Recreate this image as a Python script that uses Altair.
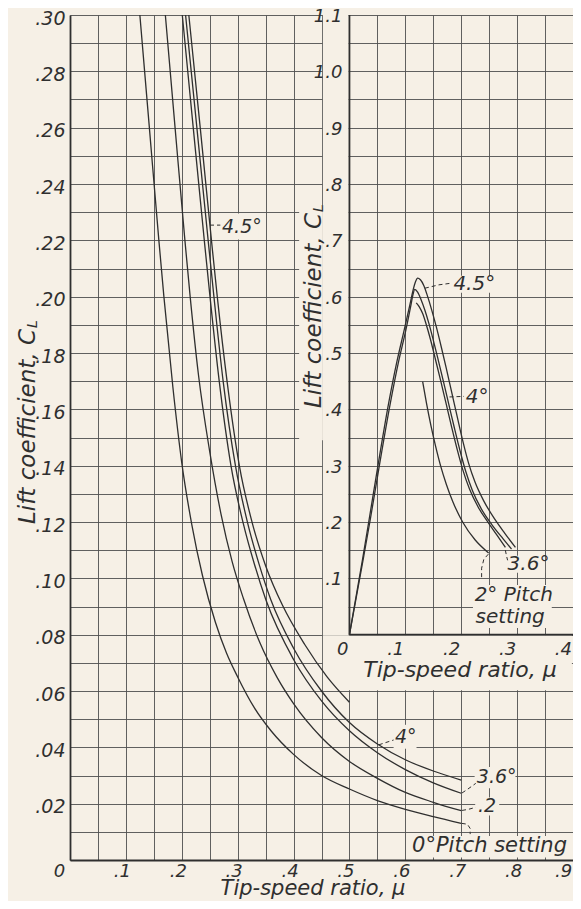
import altair as alt
import pandas as pd

BG = "#f6f0e6"
INK = "#2f2f2f"
GRID = "#4f4f4f"
FONT = "DejaVu Sans"

# ---------------- main panel: C_L vs tip-speed ratio ----------------
mu_p0 = [0.125, 0.142, 0.159, 0.168, 0.184, 0.200, 0.218, 0.237, 0.260, 0.280, 0.300, 0.330,
         0.360, 0.400, 0.450, 0.500, 0.550, 0.600, 0.650, 0.700]
cl_p0 = [0.300, 0.260, 0.220, 0.200, 0.168, 0.141, 0.119, 0.101, 0.0845, 0.0735, 0.065, 0.054,
         0.0458, 0.0375, 0.030, 0.0252, 0.0211, 0.018, 0.0154, 0.013]

mu_p2 = [0.1706, 0.188, 0.2056, 0.215, 0.230, 0.250, 0.270, 0.290, 0.310, 0.340, 0.370, 0.400,
         0.450, 0.500, 0.550, 0.600, 0.650, 0.700]
cl_p2 = [0.300, 0.260, 0.220, 0.200, 0.172, 0.145, 0.123, 0.106, 0.093, 0.077, 0.065, 0.0555,
         0.0435, 0.035, 0.029, 0.024, 0.0205, 0.0175]

mu_p36 = [0.2009, 0.2205, 0.2403, 0.2505, 0.267, 0.288, 0.310, 0.330, 0.3506, 0.400, 0.450,
          0.500, 0.550, 0.600, 0.650, 0.700]
cl_p36 = [0.300, 0.260, 0.220, 0.200, 0.170, 0.140, 0.1195, 0.105, 0.0923, 0.0712, 0.0565,
          0.0459, 0.0381, 0.0321, 0.0274, 0.0237]

mu_p4 = [0.2068, 0.227, 0.2472, 0.2575, 0.274, 0.296, 0.318, 0.338, 0.3595, 0.400, 0.450,
         0.500, 0.550, 0.600, 0.650, 0.700]
cl_p4 = [0.300, 0.260, 0.220, 0.200, 0.170, 0.140, 0.1195, 0.1052, 0.0923, 0.0752, 0.060,
         0.0488, 0.0412, 0.0356, 0.0316, 0.0284]

mu_p45 = [0.2126, 0.233, 0.2531, 0.2635, 0.281, 0.303, 0.327, 0.350, 0.380, 0.420, 0.460, 0.500]
cl_p45 = [0.300, 0.260, 0.220, 0.200, 0.170, 0.140, 0.119, 0.1045, 0.0905, 0.0765, 0.065, 0.056]

# ---------------- inset panel (its own scales) ----------------
imu_p45 = [0.0, 0.0233, 0.0345, 0.051, 0.070, 0.085, 0.098, 0.108, 0.114, 0.118, 0.122, 0.127,
           0.133, 0.140, 0.147, 0.155, 0.164, 0.173, 0.183, 0.193, 0.203, 0.213, 0.225, 0.240,
           0.260, 0.278, 0.297]
icl_p45 = [0.0, 0.133, 0.200, 0.300, 0.410, 0.485, 0.541, 0.585, 0.612, 0.626, 0.633, 0.630,
           0.620, 0.600, 0.577, 0.548, 0.512, 0.474, 0.430, 0.386, 0.343, 0.305, 0.270, 0.238,
           0.205, 0.180, 0.155]

imu_p4 = [0.0, 0.0245, 0.0365, 0.0535, 0.073, 0.088, 0.101, 0.110, 0.1135, 0.117, 0.122, 0.128,
          0.135, 0.142, 0.150, 0.159, 0.168, 0.178, 0.188, 0.198, 0.208, 0.220, 0.235, 0.255,
          0.275, 0.290]
icl_p4 = [0.0, 0.133, 0.200, 0.300, 0.410, 0.485, 0.541, 0.585, 0.603, 0.613, 0.608, 0.595,
          0.576, 0.553, 0.523, 0.487, 0.450, 0.408, 0.366, 0.326, 0.290, 0.256, 0.225, 0.195,
          0.170, 0.152]

imu_p36 = [0.1195, 0.125, 0.131, 0.137, 0.145, 0.154, 0.163, 0.173, 0.183, 0.193, 0.203, 0.215,
           0.230, 0.249, 0.263, 0.279]
icl_p36 = [0.589, 0.582, 0.570, 0.552, 0.524, 0.488, 0.452, 0.410, 0.368, 0.328, 0.292, 0.258,
           0.227, 0.198, 0.178, 0.155]

imu_p2 = [0.131, 0.138, 0.146, 0.154, 0.163, 0.173, 0.185, 0.2025, 0.225, 0.249]
icl_p2 = [0.449, 0.410, 0.370, 0.335, 0.300, 0.268, 0.236, 0.200, 0.168, 0.145]

x_grid = [round(i * 0.05, 2) for i in range(19)]
y_grid = [round(i * 0.01, 2) for i in range(31)]

inset_y_ticks = [0.1, 0.2, 0.3, 0.4, 0.5, 0.6, 0.7, 0.8, 0.9, 1.0, 1.1]
inset_y_text = [".1", ".2", ".3", ".4", ".5", ".6", ".7", ".8", ".9", "1.0", "1.1"]
inset_x_ticks = [0.0, 0.1, 0.2, 0.3, 0.4]
inset_x_text = ["0", ".1", ".2", ".3", ".4"]


def curve_df(mu, cl, name):
    return pd.DataFrame({"mu": mu, "cl": cl, "s": name, "i": list(range(len(mu)))})


main_df = pd.concat([
    curve_df(mu_p0, cl_p0, "0"), curve_df(mu_p2, cl_p2, "2"), curve_df(mu_p36, cl_p36, "3.6"),
    curve_df(mu_p4, cl_p4, "4"), curve_df(mu_p45, cl_p45, "4.5")], ignore_index=True)
inset_df = pd.concat([
    curve_df(imu_p45, icl_p45, "4.5"), curve_df(imu_p4, icl_p4, "4"),
    curve_df(imu_p36, icl_p36, "3.6"), curve_df(imu_p2, icl_p2, "2")], ignore_index=True)

xs = alt.Scale(domain=[0, 0.9], nice=False, zero=False)
ys = alt.Scale(domain=[0, 0.30], nice=False, zero=False)

xaxis = alt.Axis(
    values=x_grid, title=None, grid=True, gridColor=GRID, gridWidth=0.9, gridOpacity=1,
    ticks=False, domainColor=INK, domainWidth=1.8, labelFont=FONT, labelFontStyle="italic",
    labelFontSize=18, labelColor=INK, labelPadding=2, labelFlush=False, labelOverlap=False,
    labelBound=False,
    labelOffset={"condition": [{"test": "datum.value == 0", "value": -11},
                               {"test": "datum.value > 0.89", "value": -10}], "value": -4},
    labelExpr="round(datum.value*100) % 10 == 0 ? (datum.value == 0 ? '0' : "
              "replace(format(datum.value, '.1f'), '0.', '.')) : ''")
yaxis = alt.Axis(
    values=y_grid, title=None, grid=True, gridColor=GRID, gridWidth=0.9, gridOpacity=1,
    ticks=False, domainColor=INK, domainWidth=1.8, labelFont=FONT, labelFontStyle="italic",
    labelFontSize=19, labelColor=INK, labelPadding=5, labelOffset=3, labelFlush=False,
    labelOverlap=False, labelBound=False,
    labelExpr="datum.value == 0 ? '' : (round(datum.value*100) % 2 == 0 ? "
              "replace(format(datum.value, '.2f'), '0.', '.') : '')")


def X(f):
    return alt.X(f, type="quantitative", scale=xs, axis=xaxis)


def Y(f):
    return alt.Y(f, type="quantitative", scale=ys, axis=yaxis)


# background covers where the inset's axis labels sit (main coordinates)
covers = pd.DataFrame({"x1": [0.4525, 0.4525, 0.41], "x2": [0.898, 0.4985, 0.4525],
                       "y1": [0.0603, 0.0797, 0.149], "y2": [0.0797, 0.3005, 0.2325]})
cover_layer = alt.Chart(covers).mark_rect(color=BG, strokeWidth=0).encode(
    x=X("x1"), x2="x2", y=Y("y1"), y2="y2")

# main annotations
main_lab = pd.DataFrame({
    "t": ["4.5°", "4°", "3.6°", ".2"],
    "mu": [0.272, 0.5814, 0.728, 0.730],
    "cl": [0.2249, 0.0437, 0.0293, 0.0190]})
main_lab_bg = pd.DataFrame({
    "x1": [0.270, 0.579, 0.724, 0.725, 0.607],
    "x2": [0.338, 0.620, 0.797, 0.768, 0.893],
    "y1": [0.2203, 0.0395, 0.0255, 0.0158, 0.0009],
    "y2": [0.2295, 0.0480, 0.0330, 0.0222, 0.0085]})
main_pitch = pd.DataFrame({"t": ["0°Pitch setting"], "mu": [0.612], "cl": [0.0048]})

lead_main = pd.DataFrame({
    "k": [1, 1, 2, 2, 3, 3, 3, 4, 4, 4, 5, 5, 5, 5],
    "i": [0, 1, 0, 1, 0, 1, 2, 0, 1, 2, 0, 1, 2, 3],
    "mu": [0.2505, 0.269, 0.5526, 0.579, 0.7015, 0.712, 0.726, 0.7015, 0.713, 0.726,
           0.701, 0.711, 0.716, 0.716],
    "cl": [0.2254, 0.2254, 0.0409, 0.0426, 0.0238, 0.0252, 0.0272, 0.0176, 0.0180, 0.0187,
           0.0130, 0.0127, 0.0112, 0.0092]})

# inset annotations (inset coordinates)
inset_lab = pd.DataFrame({
    "t": ["4.5°", "4°", "3.6°", "2° Pitch", "setting"],
    "mu": [0.186, 0.208, 0.283, 0.224, 0.2255],
    "cl": [0.622, 0.422, 0.125, 0.070, 0.031]})
inset_lab_bg = pd.DataFrame({
    "x1": [0.184, 0.206, 0.281, 0.221],
    "x2": [0.252, 0.245, 0.350, 0.362],
    "y1": [0.607, 0.407, 0.110, 0.012],
    "y2": [0.637, 0.437, 0.140, 0.088]})
lead_inset = pd.DataFrame({
    "k": [1, 1, 1, 2, 2, 3, 3, 3, 4, 4, 4, 4],
    "i": [0, 1, 2, 0, 1, 0, 1, 2, 0, 1, 2, 3],
    "mu": [0.135, 0.160, 0.183, 0.179, 0.205, 0.279, 0.281, 0.283, 0.2486, 0.2405, 0.2365, 0.2365],
    "cl": [0.615, 0.621, 0.624, 0.422, 0.423, 0.150, 0.140, 0.132, 0.143, 0.134, 0.118, 0.098]})
inset_axes = pd.DataFrame({"mu": [0.0, 0.0], "mu2": [0.4, 0.0], "cl": [0.0, 0.0], "cl2": [0.0, 1.1]})

to_main = dict(px="0.5 + datum.mu", py="0.08 + 0.2 * datum.cl")
to_main_rect = dict(px1="0.5 + datum.x1", px2="0.5 + datum.x2",
                    py1="0.08 + 0.2 * datum.y1", py2="0.08 + 0.2 * datum.y2")

main_bg_layer = alt.Chart(main_lab_bg).mark_rect(color=BG, strokeWidth=0).encode(
    x=X("x1"), x2="x2", y=Y("y1"), y2="y2")
inset_bg_layer = alt.Chart(inset_lab_bg).transform_calculate(**to_main_rect).mark_rect(
    color=BG, strokeWidth=0).encode(x=X("px1:Q"), x2="px2:Q", y=Y("py1:Q"), y2="py2:Q")

main_lines = alt.Chart(main_df).mark_line(interpolate="monotone", color=INK, strokeWidth=1.3).encode(
    x=X("mu"), y=Y("cl"), detail="s:N", order="i:Q")
inset_lines = alt.Chart(inset_df).transform_calculate(**to_main).mark_line(
    interpolate="monotone", color=INK, strokeWidth=1.3).encode(
    x=X("px:Q"), y=Y("py:Q"), detail="s:N", order="i:Q")

inset_axis_layer = alt.Chart(inset_axes).transform_calculate(
    ax="0.5 + datum.mu", ax2="0.5 + datum.mu2", ay="0.08 + 0.2 * datum.cl",
    ay2="0.08 + 0.2 * datum.cl2").mark_rule(color=INK, strokeWidth=1.8).encode(
    x=X("ax:Q"), x2="ax2:Q", y=Y("ay:Q"), y2="ay2:Q")

lead_main_layer = alt.Chart(lead_main).mark_line(color=INK, strokeWidth=1, strokeDash=[4, 3]).encode(
    x=X("mu"), y=Y("cl"), detail="k:N", order="i:Q")
lead_inset_layer = alt.Chart(lead_inset).transform_calculate(**to_main).mark_line(
    color=INK, strokeWidth=1, strokeDash=[4, 3]).encode(
    x=X("px:Q"), y=Y("py:Q"), detail="k:N", order="i:Q")

txt = dict(font=FONT, fontStyle="italic", color=INK)

main_text = alt.Chart(main_lab).mark_text(align="left", baseline="middle", fontSize=19, **txt).encode(
    x=X("mu"), y=Y("cl"), text="t:N")
pitch_text = alt.Chart(main_pitch).mark_text(align="left", baseline="middle", fontSize=21, **txt).encode(
    x=X("mu"), y=Y("cl"), text="t:N")
inset_text = alt.Chart(inset_lab).transform_calculate(**to_main).mark_text(
    align="left", baseline="middle", fontSize=20, **txt).encode(
    x=X("px:Q"), y=Y("py:Q"), text="t:N")

iy = pd.DataFrame({"mu": [0.0] * len(inset_y_ticks), "cl": inset_y_ticks, "t": inset_y_text})
ix = pd.DataFrame({"mu": inset_x_ticks, "cl": [-0.027] * len(inset_x_ticks), "t": inset_x_text})
inset_ytick = alt.Chart(iy).transform_calculate(**to_main).mark_text(
    align="right", baseline="middle", fontSize=18, dx=-7, dy=2, **txt).encode(
    x=X("px:Q"), y=Y("py:Q"), text="t:N")
inset_xtick = alt.Chart(ix).transform_calculate(**to_main).mark_text(
    align="right", baseline="middle", fontSize=18, dx=-1, **txt).encode(
    x=X("px:Q"), y=Y("py:Q"), text="t:N")


def title_text(s, px, py, size, angle=0, align="center", baseline="middle"):
    return alt.Chart(pd.DataFrame({"t": [s]})).mark_text(
        align=align, baseline=baseline, fontSize=size, angle=angle, **txt).encode(
        text="t:N", x=alt.value(px), y=alt.value(py))


titles = [
    title_text("Tip-speed ratio, μ", 243, 880, 21, baseline="alphabetic"),
    title_text("Lift coefficient, C", -42, 314, 23, angle=270, align="right"),
    title_text("L", -37, 313, 14, angle=270, align="left"),
    title_text("Tip-speed ratio, μ", 390, 655, 22),
    title_text("Lift coefficient, C", 244, 198, 23, angle=270, align="right"),
    title_text("L", 249, 197, 14, angle=270, align="left"),
]

chart = alt.layer(
    cover_layer, main_bg_layer, inset_bg_layer, main_lines, inset_axis_layer, inset_lines,
    lead_main_layer, lead_inset_layer, main_text, pitch_text, inset_text, inset_ytick,
    inset_xtick, *titles
).properties(
    width=503, height=845, background=BG,
    padding={"left": 62, "top": 7, "right": 0, "bottom": 41},
    autosize=alt.AutoSizeParams(type="none"),
).configure_view(stroke=None)

chart.save("out.html", embed_options={"renderer": "svg", "actions": False})
